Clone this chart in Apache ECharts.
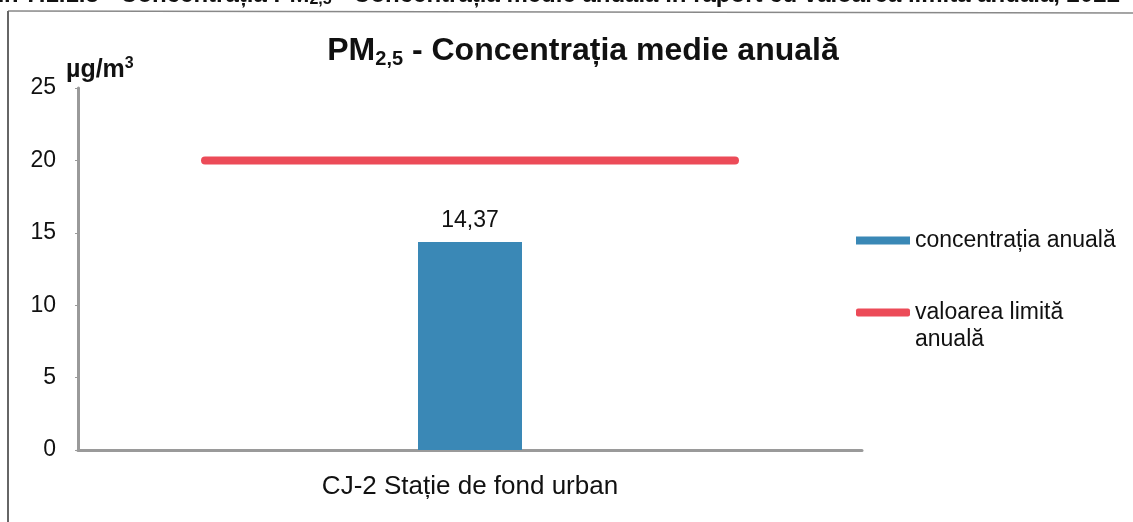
<!DOCTYPE html>
<html>
<head>
<meta charset="utf-8">
<script src="https://cdn.jsdelivr.net/npm/echarts@6/dist/echarts.min.js"></script>
<style>
  html, body { margin: 0; padding: 0; background: #fff; }
  #chart { width: 1133px; height: 522px; }
</style>
</head>
<body>
<div id="chart"></div>
<script>
// date
const categories = ['CJ-2 Stație de fond urban'];
const concentratie = [14.37];
const limitaAnuala = 20;
const limitaSpan = [0.162, 0.838]; // cat din latimea axei acopera linia rosie
const yTicks = { min: 0, max: 25, interval: 5 };

const chartDom = document.getElementById('chart');
const chart = echarts.init(chartDom);

const font = 'Liberation Sans, Arial, sans-serif';
const numeBar = 'concentrația anuală';
const numeLinie = 'valoarea limită anuală';

let option = {
  backgroundColor: '#fff',
  textStyle: { fontFamily: font },
  title: {
    text: '{b|PM}{s|2,5}{b| - Concentrația medie anuală}',
    left: 578,
    textAlign: 'center',
    top: 28,
    textStyle: {
      rich: {
        b: { fontSize: 32, fontWeight: 'bold', color: '#111', fontFamily: font },
        s: { fontSize: 20, fontWeight: 'bold', color: '#111', fontFamily: font, verticalAlign: 'bottom', padding: [16, 0, 0, 0] }
      }
    }
  },
  legend: {
    orient: 'vertical',
    left: 851,
    top: 224,
    itemGap: 20,
    itemWidth: 54,
    itemHeight: 8,
    textStyle: {
      fontSize: 23, color: '#111', fontFamily: font,
      rich: {
        t: { fontSize: 23, color: '#111', fontFamily: font, lineHeight: 27 },
        e: { height: 27, lineHeight: 27 }
      }
    },
    formatter: name => name === numeLinie
      ? '{e| }\n{t|valoarea limită}\n{t|anuală}'
      : '{t|' + name + '}',
    data: [
      { name: numeBar, icon: 'rect' },
      { name: numeLinie, icon: 'roundRect' }
    ]
  },
  grid: { left: 78, right: 271, top: 88, bottom: 72 },
  xAxis: [
    {
      type: 'category',
      data: categories,
      axisLine: { lineStyle: { color: '#9a9a9a', width: 3 } },
      axisTick: { show: false },
      axisLabel: { fontSize: 26, color: '#111', margin: 24 }
    },
    {
      type: 'value',
      min: 0,
      max: 1,
      show: false
    }
  ],
  yAxis: {
    type: 'value',
    min: yTicks.min,
    max: yTicks.max,
    interval: yTicks.interval,
    name: '{u|µg/m}{p|3}',
    nameLocation: 'end',
    nameGap: 4,
    nameTextStyle: {
      align: 'left',
      padding: [0, 0, 0, -12],
      rich: {
        u: { fontSize: 25, fontWeight: 'bold', color: '#111', fontFamily: font },
        p: { fontSize: 16, fontWeight: 'bold', color: '#111', fontFamily: font, verticalAlign: 'top', padding: [0, 0, 12, 0] }
      }
    },
    axisLine: { show: true, lineStyle: { color: '#9a9a9a', width: 3 } },
    axisTick: { show: true, length: 3, lineStyle: { color: '#9a9a9a' } },
    splitLine: { show: false },
    axisLabel: { fontSize: 23, color: '#111', margin: 22 }
  },
  series: [
    {
      name: numeBar,
      type: 'bar',
      data: concentratie,
      barWidth: 104,
      itemStyle: { color: '#3a88b6' },
      label: {
        show: true,
        position: 'top',
        distance: 10,
        fontSize: 23,
        color: '#111',
        formatter: p => String(p.value).replace('.', ',')
      }
    },
    {
      name: numeLinie,
      type: 'line',
      xAxisIndex: 1,
      data: limitaSpan.map(x => [x, limitaAnuala]),
      symbol: 'none',
      lineStyle: { color: '#ec4b58', width: 8, cap: 'round' },
      itemStyle: { color: '#ec4b58' }
    }
  ],
  graphic: [
    {
      type: 'text',
      right: 13,
      top: -17,
      style: {
        text: '{b|Figura nr. 7.1.1.3 - Concentrația PM}{s|2,5}{b| - Concentrația medie anuală în raport cu valoarea limită anuală, 2022}',
        rich: {
          b: { font: 'bold 24px ' + font, fill: '#111' },
          s: { font: 'bold 16px ' + font, fill: '#111', padding: [10, 0, 0, 0] }
        }
      }
    },
    {
      type: 'line',
      shape: { x1: 8, y1: 11, x2: 1133, y2: 13 },
      style: { stroke: '#888', lineWidth: 1.5 }
    },
    {
      type: 'line',
      shape: { x1: 8, y1: 11, x2: 8, y2: 522 },
      style: { stroke: '#666', lineWidth: 2 }
    }
  ]
};

option && chart.setOption(option);
</script>
</body>
</html>
